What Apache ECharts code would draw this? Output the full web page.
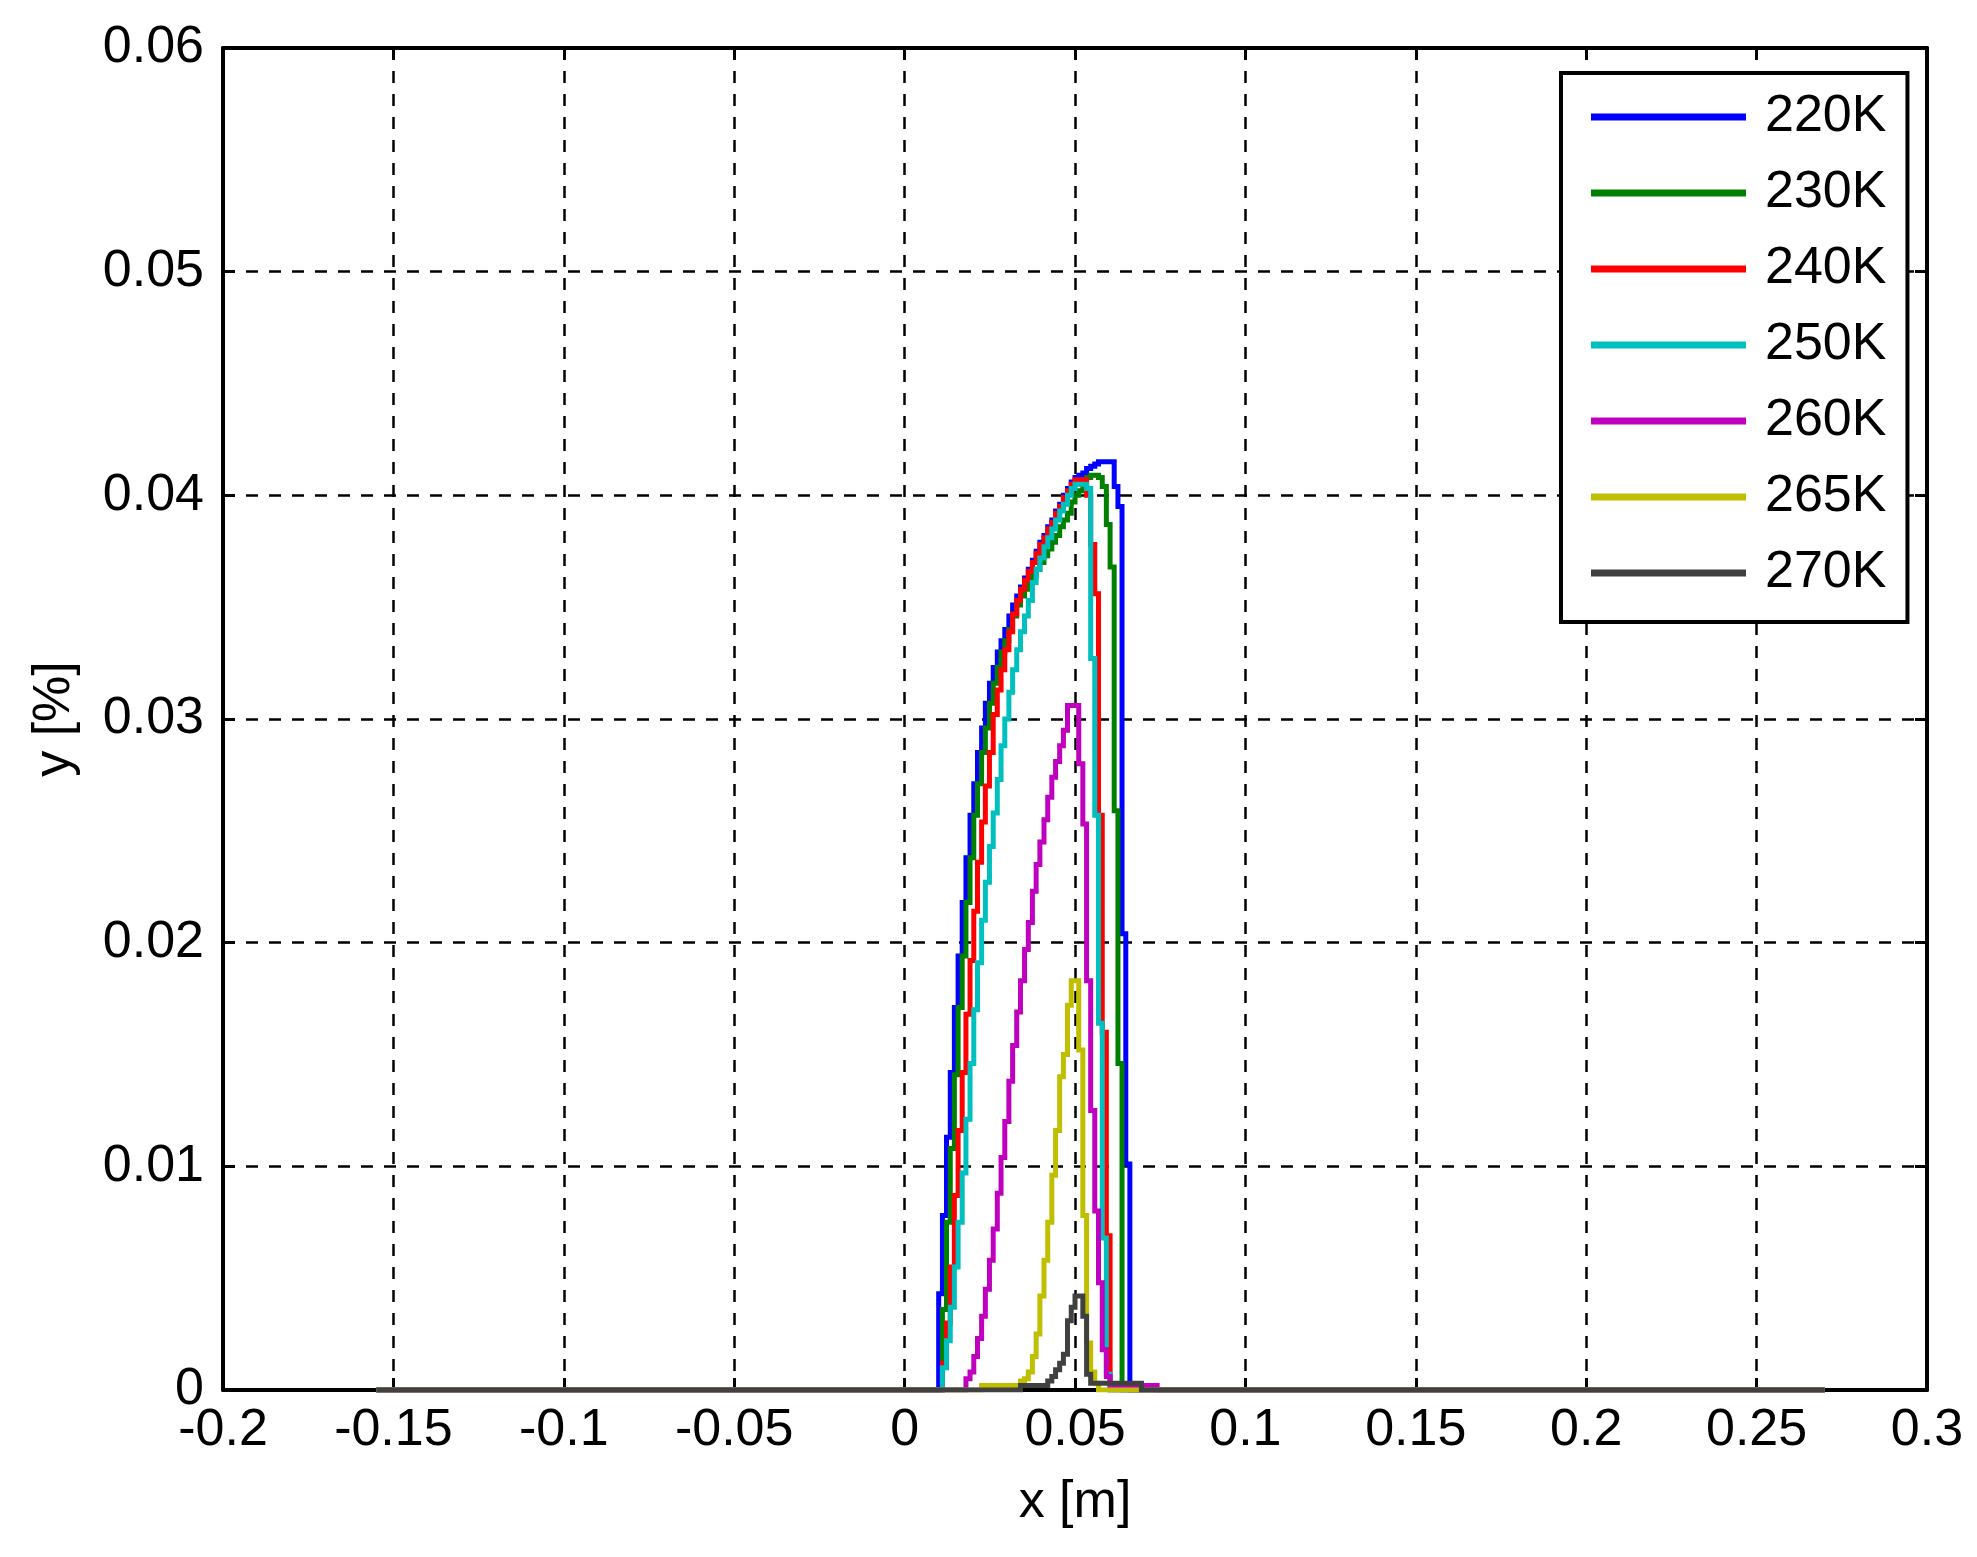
<!DOCTYPE html>
<html>
<head>
<meta charset="utf-8">
<title>y vs x</title>
<script src="https://cdn.jsdelivr.net/npm/echarts@6/dist/echarts.min.js"></script>
<style>
  html, body { margin: 0; padding: 0; background: #fff; }
  #chart { width: 1977px; height: 1557px; }
</style>
</head>
<body>
<div id="chart"></div>
<script>
// left edge of each cell [m], values hold until the next edge
var xEdges = [
  0.0100, 0.0111, 0.0123, 0.0134, 0.0146, 0.0157, 0.0169, 0.0180, 0.0192, 0.0203,
  0.0214, 0.0226, 0.0237, 0.0249, 0.0260, 0.0272, 0.0283, 0.0294, 0.0306, 0.0317,
  0.0329, 0.0340, 0.0352, 0.0363, 0.0375, 0.0386, 0.0397, 0.0409, 0.0420, 0.0432,
  0.0443, 0.0455, 0.0466, 0.0478, 0.0489, 0.0500, 0.0511, 0.0523, 0.0534, 0.0546,
  0.0558, 0.0569, 0.0580, 0.0592, 0.0603, 0.0615, 0.0626, 0.0638, 0.0649, 0.0661,
  0.0672, 0.0683, 0.0695, 0.0706, 0.0718, 0.0729, 0.0741
];
var xFirst = -0.155; // domain start (y = 0)
var xLast = 0.27;    // domain end (y = 0)

var names = ['220K', '230K', '240K', '250K', '260K', '265K', '270K'];
var colors = ['#0000ff', '#008000', '#ff0000', '#00bfbf', '#bf00bf', '#bfbf00', '#404040'];

var y220 = [
  0.0043, 0.0078, 0.0113, 0.0142, 0.0171, 0.0194, 0.0218, 0.0238, 0.0257, 0.0271,
  0.0285, 0.0296, 0.0307, 0.0316, 0.0323, 0.0330, 0.0335, 0.0340, 0.0346, 0.0351,
  0.0355, 0.0359, 0.0363, 0.0367, 0.0371, 0.0375, 0.0379, 0.0382, 0.0386, 0.0389,
  0.0393, 0.0396, 0.0400, 0.0403, 0.0406, 0.0408, 0.0409, 0.0410, 0.0412, 0.0413,
  0.0414, 0.0415, 0.0415, 0.0415, 0.0415, 0.0404, 0.0395, 0.0204, 0.0101, 0,
  0, 0, 0, 0, 0, 0, 0
];
var y230 = [
  0, 0.0036, 0.0075, 0.0108, 0.0141, 0.0171, 0.0194, 0.0218, 0.0238, 0.0257,
  0.0271, 0.0285, 0.0296, 0.0307, 0.0316, 0.0323, 0.0330, 0.0335, 0.0340, 0.0346,
  0.0351, 0.0355, 0.0358, 0.0361, 0.0364, 0.0367, 0.0370, 0.0373, 0.0376, 0.0379,
  0.0382, 0.0386, 0.0389, 0.0392, 0.0397, 0.0400, 0.0402, 0.0405, 0.0408, 0.0409,
  0.0409, 0.0408, 0.0404, 0.0387, 0.0368, 0.0259, 0.0146, 0, 0, 0,
  0, 0, 0, 0, 0, 0, 0
];
var y240 = [
  0, 0.0012, 0.0030, 0.0055, 0.0087, 0.0116, 0.0142, 0.0168, 0.0192, 0.0214,
  0.0236, 0.0254, 0.0270, 0.0285, 0.0302, 0.0313, 0.0322, 0.0331, 0.0339, 0.0347,
  0.0353, 0.0358, 0.0362, 0.0366, 0.0370, 0.0374, 0.0378, 0.0381, 0.0385, 0.0388,
  0.0392, 0.0395, 0.0399, 0.0402, 0.0405, 0.0407, 0.0407, 0.0407, 0.0400, 0.0378,
  0.0356, 0.0257, 0.0160, 0.0069, 0, 0, 0, 0, 0, 0,
  0, 0, 0, 0, 0, 0, 0
];
var y250 = [
  0, 0.0010, 0.0022, 0.0037, 0.0055, 0.0075, 0.0097, 0.0121, 0.0146, 0.0170,
  0.0191, 0.0210, 0.0227, 0.0243, 0.0258, 0.0273, 0.0288, 0.0300, 0.0312, 0.0322,
  0.0331, 0.0339, 0.0346, 0.0353, 0.0361, 0.0367, 0.0372, 0.0377, 0.0381, 0.0385,
  0.0389, 0.0393, 0.0396, 0.0400, 0.0403, 0.0405, 0.0405, 0.0405, 0.0403, 0.0327,
  0.0257, 0.0164, 0.0068, 0.0007, 0, 0, 0, 0, 0, 0,
  0, 0, 0, 0, 0, 0, 0
];
var y260 = [
  0, 0, 0, 0, 0, 0, 0, 0.0005, 0.0008, 0.0015,
  0.0023, 0.0033, 0.0045, 0.0058, 0.0072, 0.0088, 0.0104, 0.0120, 0.0138, 0.0154,
  0.0169, 0.0183, 0.0197, 0.0209, 0.0223, 0.0235, 0.0245, 0.0255, 0.0265, 0.0274,
  0.0281, 0.0288, 0.0295, 0.0306, 0.0306, 0.0306, 0.0280, 0.0253, 0.0183, 0.0125,
  0.0080, 0.0048, 0.0018, 0.0006, 0.0002, 0.0002, 0.0002, 0.0002, 0.0002, 0.0002,
  0.0002, 0.0002, 0.0002, 0.0002, 0.0002, 0.0002, 0
];
var y265 = [
  0, 0, 0, 0, 0, 0, 0, 0, 0, 0,
  0, 0.0002, 0.0002, 0.0002, 0.0002, 0.0002, 0.0002, 0.0002, 0.0002, 0.0002,
  0.0002, 0.0004, 0.0005, 0.0008, 0.0015, 0.0025, 0.0042, 0.0058, 0.0075, 0.0096,
  0.0116, 0.0140, 0.0150, 0.0172, 0.0183, 0.0183, 0.0152, 0.0078, 0.0021, 0.0008,
  0.0003, 0, 0, 0, 0, 0, 0, 0, 0, 0,
  0, 0, 0, 0, 0, 0, 0
];
var y270 = [
  0, 0, 0, 0, 0, 0, 0, 0, 0, 0,
  0, 0, 0, 0, 0, 0, 0, 0, 0, 0,
  0, 0.0002, 0.0002, 0.0002, 0.0002, 0.0002, 0.0002, 0.0002, 0.0004, 0.0006,
  0.0009, 0.0012, 0.0016, 0.0031, 0.0037, 0.0042, 0.0042, 0.0033, 0.0007, 0.0003,
  0.0003, 0.0003, 0.0003, 0.0003, 0.0003, 0.0003, 0.0003, 0.0003, 0.0003, 0.0003,
  0.0003, 0.0003, 0, 0, 0, 0, 0
];
var allY = [y220, y230, y240, y250, y260, y265, y270];

var xTicks = { min: -0.2, max: 0.3, interval: 0.05 };
var yTicks = { min: 0, max: 0.06, interval: 0.01 };

var font = 'Liberation Sans';
var fmt = function (v) { return String(Math.round(v * 1000) / 1000); };

function toPairs(vals) {
  var d = [[xFirst, 0]];
  for (var i = 0; i < xEdges.length; i++) d.push([xEdges[i], vals[i]]);
  d.push([xLast, 0]);
  return d;
}

var frameLine = { show: true, onZero: false, lineStyle: { color: '#000', width: 4 } };
var tick = { show: true, inside: true, length: 12, lineStyle: { color: '#000', width: 3 } };
var dashed = { show: true, lineStyle: { color: '#000', width: 2.5, type: [12, 11] } };

var chart = echarts.init(document.getElementById('chart'));
chart.setOption({
  animation: false,
  backgroundColor: '#fff',
  color: colors,
  grid: { left: 223, right: 50, top: 48, bottom: 167, containLabel: false },
  xAxis: [
    {
      type: 'value', position: 'bottom',
      min: xTicks.min, max: xTicks.max, interval: xTicks.interval,
      name: 'x [m]', nameLocation: 'middle', nameGap: 87,
      nameTextStyle: { fontSize: 52, color: '#000', fontFamily: font },
      axisLine: frameLine, axisTick: tick,
      axisLabel: { fontSize: 52, color: '#000', fontFamily: font, margin: 15,
        showMinLabel: true, showMaxLabel: true, formatter: fmt },
      splitLine: dashed
    },
    {
      type: 'value', position: 'top',
      min: xTicks.min, max: xTicks.max, interval: xTicks.interval,
      axisLine: frameLine, axisTick: tick,
      axisLabel: { show: false }, splitLine: { show: false }
    }
  ],
  yAxis: [
    {
      type: 'value', position: 'left',
      min: yTicks.min, max: yTicks.max, interval: yTicks.interval,
      name: 'y [%]', nameLocation: 'middle', nameGap: 142,
      nameTextStyle: { fontSize: 52, color: '#000', fontFamily: font },
      axisLine: frameLine, axisTick: tick,
      axisLabel: { fontSize: 52, color: '#000', fontFamily: font, margin: 19,
        showMinLabel: true, showMaxLabel: true, formatter: fmt },
      splitLine: dashed
    },
    {
      type: 'value', position: 'right',
      min: yTicks.min, max: yTicks.max, interval: yTicks.interval,
      axisLine: frameLine, axisTick: tick,
      axisLabel: { show: false }, splitLine: { show: false }
    }
  ],
  legend: {
    orient: 'vertical', left: 1561, top: 73,
    padding: [18, 21, 23, 30],
    itemGap: 24, itemWidth: 155, itemHeight: 7,
    icon: 'rect',
    backgroundColor: '#fff', borderColor: '#000', borderWidth: 4, borderRadius: 0,
    textStyle: { fontSize: 52, lineHeight: 50, color: '#000', fontFamily: font, padding: [0, 0, 0, 14] },
    data: names
  },
  series: names.map(function (n, i) {
    return {
      name: n, type: 'line', step: 'end',
      xAxisIndex: 0, yAxisIndex: 0,
      showSymbol: false, symbol: 'none',
      lineStyle: { color: colors[i], width: 5, join: 'miter' },
      itemStyle: { color: colors[i] },
      data: toPairs(allY[i])
    };
  })
});
</script>
</body>
</html>
